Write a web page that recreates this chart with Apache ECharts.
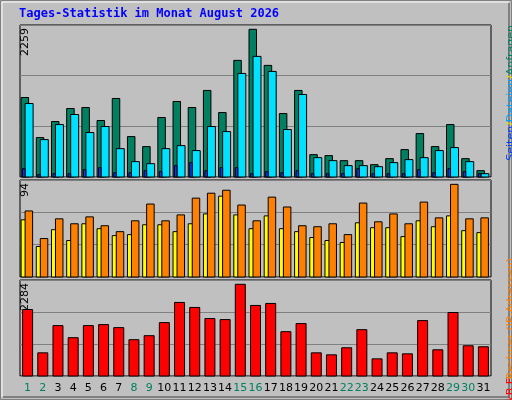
<!DOCTYPE html>
<html><head><meta charset="utf-8">
<script src="https://cdn.jsdelivr.net/npm/echarts@6/dist/echarts.min.js"></script>
<style>html,body{margin:0;padding:0;background:#c0c0c0}#c{width:512px;height:400px}</style>
</head><body><div id="c"></div>
<script>
const days = ['1','2','3','4','5','6','7','8','9','10','11','12','13','14','15','16','17','18','19','20','21','22','23','24','25','26','27','28','29','30','31'];
const weekend = ['1','2','8','9','15','16','22','23','29','30'];
const hits = [1216,603,848,1048,1063,864,1201,618,465,910,1155,1063,1324,986,1784,2259,1707,971,1324,342,327,250,250,189,281,419,664,465,802,281,97];
const files = [1124,572,802,956,680,772,434,235,204,434,480,404,772,695,1584,1845,1615,726,1262,296,250,174,174,158,220,266,296,404,450,235,51];
const pages = [128,36,51,51,112,143,66,66,97,82,174,220,97,143,143,51,82,66,97,51,51,51,128,51,51,51,112,66,128,82,51];
const visits = [58,31,48,37,54,49,42,43,53,53,46,54,64,82,63,49,62,49,46,40,37,35,55,50,50,41,57,51,62,47,45];
const sites = [67,39,59,54,61,52,46,57,74,57,63,80,85,88,73,57,81,71,52,51,54,43,75,56,64,54,76,60,94,59,60];
const kbytes = [1656,577,1255,954,1255,1280,1205,904,1004,1330,1832,1707,1431,1405,2284,1757,1807,1104,1305,577,527,703,1154,427,577,552,1380,653,1581,753,728];
const title = 'Tages-Statistik im Monat August 2026';

const chart = echarts.init(document.getElementById('c'));
const FONT = 'DejaVu Sans Mono';
// bar(series data, offset from band centre [left,right] in px)
function bars(data, gi, color, x0, x1, z){
  return {type:'custom', xAxisIndex:gi, yAxisIndex:gi, z:z, data:data.map((v,i)=>[i,v]),
    renderItem:(p,api)=>{
      const top = api.coord([api.value(0), api.value(1)]);
      const base = api.coord([api.value(0), 0]);
      return {type:'rect', shape:{x:top[0]+x0, y:top[1], width:x1-x0, height:base[1]-top[1]},
        style:{fill:color, stroke:'#000', lineWidth:1}};
    }};
}
const grids = [
  {left:20, right:21, top:25, height:152},
  {left:20, right:21, top:180, height:97},
  {left:20, right:21, top:280, height:96}
];
const ymax = [2325, 98.4, 2391];
const yint = [775, 32.8, 797];
const xAxes = grids.map((g,i)=>({gridIndex:i, type:'category', data:days, boundaryGap:true,
  axisLine:{show:false}, axisTick:{show:false}, splitLine:{show:false},
  axisLabel:{show:i===2, interval:0, fontFamily:'DejaVu Sans', fontSize:11, margin:7,
    color:(v)=>weekend.includes(v)?'#008060':'#000'}}));
const yAxes = grids.map((g,i)=>({gridIndex:i, type:'value', min:0, max:ymax[i], interval:yint[i],
  axisLine:{show:false}, axisTick:{show:false}, axisLabel:{show:false},
  splitLine:{show:true, lineStyle:{color:'#808080', width:1}}}));
function vlabel(text, x, y, color){
  return {type:'text', x:x, y:y, rotation:Math.PI/2,
    style:{text:text, fill:color, font:'11px "DejaVu Sans"', align:'right', verticalAlign:'top'}};
}
chart.setOption({
  animation:false,
  backgroundColor:'#c0c0c0',
  grid: grids.map(g=>Object.assign({show:true, borderColor:'#000', borderWidth:1, backgroundColor:'#c0c0c0'}, g)),
  xAxis:xAxes, yAxis:yAxes,
  series:[
    bars(hits,0,'#008060',-6.5,1,3),
    bars(files,0,'#00e0ff',-2.5,5.5,4),
    bars(pages,0,'#0040ff',-5,-2.5,5),
    bars(visits,1,'#ffff00',-6.5,-2,3),
    bars(sites,1,'#ff8000',-2.5,5,4),
    bars(kbytes,2,'#ff0000',-5,5,3)
  ],
  graphic:[
    {type:'rect', shape:{x:0.5,y:0.5,width:511,height:399}, style:{fill:null, stroke:'#808080', lineWidth:1}},
    {type:'polyline', shape:{points:[[2,397],[2,2],[509,2]]}, style:{stroke:'#fff', lineWidth:1, fill:null}},
    {type:'polyline', shape:{points:[[3,397],[509,397],[509,3]]}, style:{stroke:'#808080', lineWidth:2, fill:null}},
    {type:'text', x:19, y:8, style:{text:title, fill:'#0000ff', font:'bold 12px "'+FONT+'"'}},
    vlabel(String(Math.max(...hits)), 20, 28, '#000'),
    vlabel(String(Math.max(...sites)), 20, 183, '#000'),
    vlabel(String(Math.max(...kbytes)), 20, 283, '#000'),
    {type:'text', x:506, y:25, rotation:Math.PI/2,
     style:{text:'{s|Seiten}{y|/}{d|Dateien}{y|/}{a|Anfragen}', align:'right', verticalAlign:'top', font:'11px "DejaVu Sans"',
       rich:{s:{fill:'#0040ff'}, y:{fill:'#e0e000'}, d:{fill:'#00a0ff'}, a:{fill:'#008060'}}}},
    vlabel('Rechner (IP-Adressen)', 506, 258, '#ff8000'),
    vlabel('kB F', 506, 378, '#ff0000')
  ]
});
</script></body></html>
